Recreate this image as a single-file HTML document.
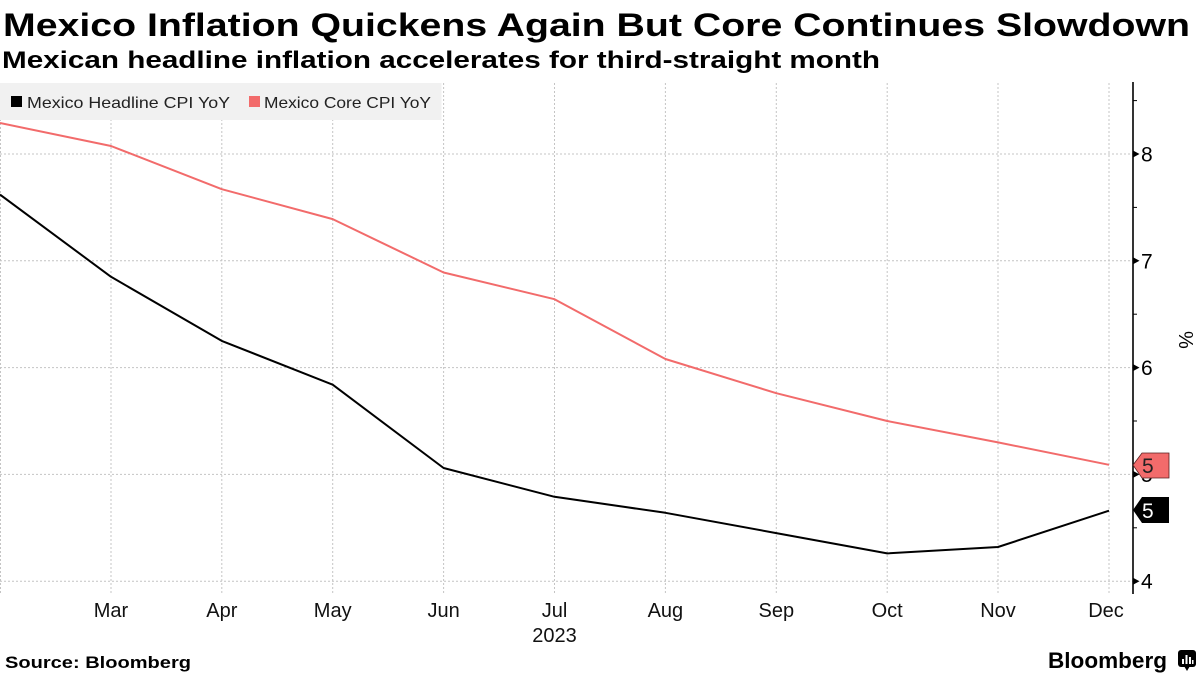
<!DOCTYPE html>
<html>
<head>
<meta charset="utf-8">
<style>
  html, body { margin:0; padding:0; background:#ffffff; }
  body { width:1200px; height:675px; overflow:hidden; }
  svg { display:block; }
  text { font-family: "Liberation Sans", "DejaVu Sans", sans-serif; }
</style>
</head>
<body>
<svg width="1200" height="675" viewBox="0 0 1200 675" xmlns="http://www.w3.org/2000/svg">
  <rect x="0" y="0" width="1200" height="675" fill="#ffffff"/>

  <!-- Title & subtitle -->
  <text x="3" y="36" font-size="32" font-weight="bold" fill="#000" textLength="1187" lengthAdjust="spacingAndGlyphs">Mexico Inflation Quickens Again But Core Continues Slowdown</text>
  <text x="2" y="68" font-size="24" font-weight="bold" fill="#000" textLength="878" lengthAdjust="spacingAndGlyphs">Mexican headline inflation accelerates for third-straight month</text>

  <!-- Vertical gridlines -->
  <g stroke="#c4c4c4" stroke-width="1" stroke-dasharray="2,2">
    <line x1="0.5" y1="83" x2="0.5" y2="595"/>
    <line x1="111" y1="83" x2="111" y2="595"/>
    <line x1="221.8" y1="83" x2="221.8" y2="595"/>
    <line x1="332.7" y1="83" x2="332.7" y2="595"/>
    <line x1="443.6" y1="83" x2="443.6" y2="595"/>
    <line x1="554.5" y1="83" x2="554.5" y2="595"/>
    <line x1="665.4" y1="83" x2="665.4" y2="595"/>
    <line x1="776.3" y1="83" x2="776.3" y2="595"/>
    <line x1="887.2" y1="83" x2="887.2" y2="595"/>
    <line x1="998" y1="83" x2="998" y2="595"/>
    <line x1="1109" y1="83" x2="1109" y2="595"/>
  </g>
  <!-- Horizontal gridlines -->
  <g stroke="#c4c4c4" stroke-width="1" stroke-dasharray="2,2">
    <line x1="0" y1="154" x2="1133" y2="154"/>
    <line x1="0" y1="260.8" x2="1133" y2="260.8"/>
    <line x1="0" y1="367.6" x2="1133" y2="367.6"/>
    <line x1="0" y1="474.4" x2="1133" y2="474.4"/>
    <line x1="0" y1="581.2" x2="1133" y2="581.2"/>
  </g>

  <!-- Legend -->
  <rect x="0" y="83" width="441.5" height="37" fill="#f1f1f1"/>
  <rect x="11" y="96" width="11" height="11" fill="#000"/>
  <text x="27" y="108" font-size="16" fill="#222" textLength="203" lengthAdjust="spacingAndGlyphs">Mexico Headline CPI YoY</text>
  <rect x="249" y="96" width="11" height="11" fill="#f26b6b"/>
  <text x="264" y="108" font-size="16" fill="#222" textLength="167" lengthAdjust="spacingAndGlyphs">Mexico Core CPI YoY</text>

  <!-- Core CPI -->
  <polyline fill="none" stroke="#f26b6b" stroke-width="2" stroke-linejoin="round"
    points="0,123 111,146 221.8,189.2 332.7,219.1 443.6,272.5 554.5,299.2 665.4,359 776.3,393.2 887.2,421 998,442.4 1109,464.8"/>
  <!-- Headline CPI -->
  <polyline fill="none" stroke="#000" stroke-width="2" stroke-linejoin="round"
    points="0,194.6 111,276.8 221.8,340.9 332.7,384.7 443.6,468 554.5,496.8 665.4,512.8 776.3,533.1 887.2,553.4 998,547 1109,510.7"/>

  <!-- Right axis -->
  <line x1="1133" y1="82" x2="1133" y2="594" stroke="#000" stroke-width="1.6"/>
  <g stroke="#000" stroke-width="1">
    <line x1="1133" y1="100.6" x2="1137" y2="100.6"/>
    <line x1="1133" y1="207.4" x2="1137" y2="207.4"/>
    <line x1="1133" y1="314.2" x2="1137" y2="314.2"/>
    <line x1="1133" y1="421" x2="1137" y2="421"/>
    <line x1="1133" y1="527.8" x2="1137" y2="527.8"/>
  </g>
  <g fill="#000">
    <polygon points="1133,150.5 1139.5,154 1133,157.5"/>
    <polygon points="1133,257.3 1139.5,260.8 1133,264.3"/>
    <polygon points="1133,364.1 1139.5,367.6 1133,371.1"/>
    <polygon points="1133,470.9 1139.5,474.4 1133,477.9"/>
    <polygon points="1133,577.7 1139.5,581.2 1133,584.7"/>
  </g>
  <g font-size="21" fill="#000">
    <text x="1141" y="161.5">8</text>
    <text x="1141" y="268.3">7</text>
    <text x="1141" y="375.1">6</text>
    <text x="1141" y="481.9">5</text>
    <text x="1141" y="588.7">4</text>
  </g>
  <text x="0" y="0" font-size="20" fill="#000" transform="translate(1179,331) rotate(90)">%</text>

  <!-- Value tags -->
  <polygon points="1133,465 1142,453 1169,453 1169,478 1142,478" fill="#f26b6b" stroke="#5a2020" stroke-width="0.8"/>
  <text x="1142" y="473" font-size="21" fill="#222">5</text>
  <polygon points="1133,510 1142,497 1169,497 1169,523 1142,523" fill="#000"/>
  <text x="1142" y="518" font-size="21" fill="#fff">5</text>

  <!-- X axis labels -->
  <g font-size="20" fill="#111" text-anchor="middle">
    <text x="111" y="617">Mar</text>
    <text x="221.8" y="617">Apr</text>
    <text x="332.7" y="617">May</text>
    <text x="443.6" y="617">Jun</text>
    <text x="554.5" y="617">Jul</text>
    <text x="665.4" y="617">Aug</text>
    <text x="776.3" y="617">Sep</text>
    <text x="887.2" y="617">Oct</text>
    <text x="998" y="617">Nov</text>
    <text x="1106" y="617">Dec</text>
    <text x="554.5" y="642">2023</text>
  </g>

  <!-- Footer -->
  <text x="5" y="668" font-size="17" font-weight="bold" fill="#000" textLength="186" lengthAdjust="spacingAndGlyphs">Source: Bloomberg</text>
  <text x="1048" y="668" font-size="22" font-weight="bold" fill="#000" textLength="119" lengthAdjust="spacingAndGlyphs">Bloomberg</text>
  <rect x="1178" y="650" width="18" height="17" rx="3" fill="#000"/>
  <polygon points="1184,666 1190,666 1187,671" fill="#000"/>
  <g fill="#fff">
    <rect x="1182" y="659" width="2" height="5"/>
    <rect x="1185.5" y="655" width="2" height="9"/>
    <rect x="1189" y="657" width="2" height="7"/>
    <rect x="1192" y="660" width="1.5" height="4"/>
  </g>
</svg>
</body>
</html>
